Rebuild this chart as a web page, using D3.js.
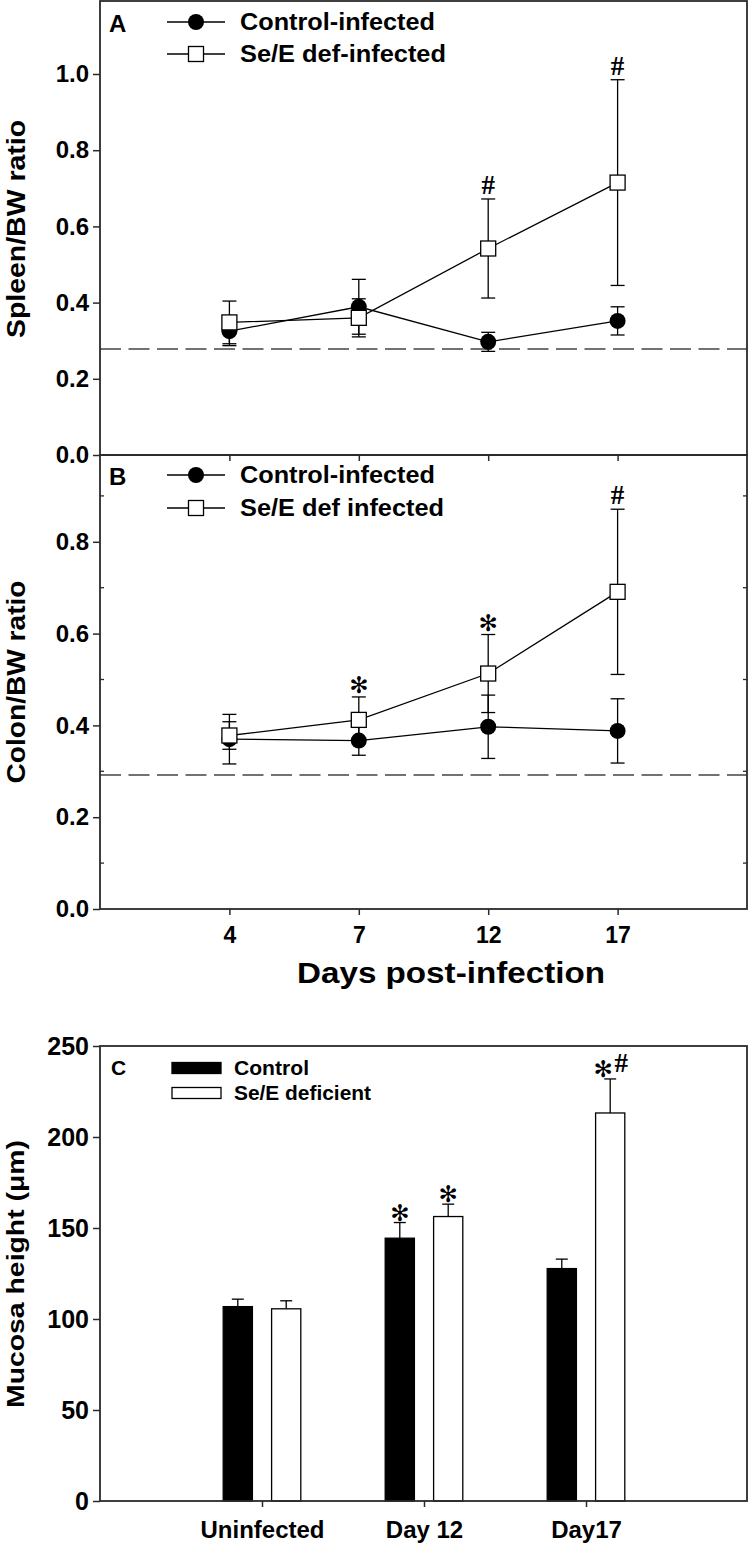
<!DOCTYPE html>
<html><head><meta charset="utf-8">
<script src="https://cdn.jsdelivr.net/npm/d3@7"></script>
<style>body{margin:0;background:#fff}svg{display:block}</style>
</head><body>
<svg id="chart" width="750" height="1544"></svg>
<script>
// ---------- data ----------
const days = ["4", "7", "12", "17"];
const seriesNames = ["Control-infected", "Se/E def-infected"];
const seriesNamesB = ["Control-infected", "Se/E def infected"];

const spleenControl = [0.325, 0.389, 0.297, 0.352];
const spleenControlSE = [0.038, 0.072, 0.025, 0.037];
const spleenDef = [0.348, 0.360, 0.542, 0.715];
const spleenDefSE = [0.056, 0.050, 0.130, 0.270];
const spleenDefSig = ["", "", "#", "#"];
const spleenBaseline = 0.278;
const spleenTicks = [0, 0.2, 0.4, 0.6, 0.8, 1.0];

const colonControl = [0.370, 0.367, 0.397, 0.388];
const colonControlSE = [0.054, 0.032, 0.069, 0.070];
const colonDef = [0.378, 0.412, 0.513, 0.691];
const colonDefSE = [0.030, 0.050, 0.085, 0.180];
const colonDefSig = ["", "*", "*", "#"];
const colonBaseline = 0.292;
const colonTicks = [0, 0.2, 0.4, 0.6, 0.8];
const colonMinorTicks = [0.1, 0.3, 0.5, 0.7, 0.9];

const groups = ["Uninfected", "Day 12", "Day17"];
const barSeries = ["Control", "Se/E deficient"];
const mucosaControl = [106.8, 144.4, 127.7];
const mucosaControlSE = [4.1, 8.6, 5.2];
const mucosaDef = [105.6, 156.3, 213.2];
const mucosaDefSE = [4.4, 6.8, 18.7];
const mucosaControlSig = ["", "*", ""];
const mucosaDefSig = ["", "*", "*#"];
const mucosaTicks = [0, 50, 100, 150, 200, 250];

// ---------- setup ----------
const SANS = "'Liberation Sans', Arial, Helvetica, sans-serif";
const SERIF = "'Liberation Serif', 'Times New Roman', serif";
const STAR = "'DejaVu Sans', sans-serif";
const svg = d3.select("#chart");
const L = 100, R = 747;
const FRAME = "#2a2a2a";

const xDays = d3.scalePoint().domain(days).range([L, R]).padding(1);

function frame(top, bottom, right) {
  svg.append("rect").attr("x", L).attr("y", top).attr("width", right - L).attr("height", bottom - top)
    .attr("fill", "none").attr("stroke", FRAME).attr("stroke-width", 1.8);
}
function styleAxis(g, size) {
  g.select(".domain").remove();
  g.selectAll(".tick line").attr("stroke", FRAME).attr("stroke-width", 1.5);
  g.selectAll(".tick text").attr("font-family", SANS).attr("font-weight", "bold")
    .attr("font-size", size).attr("fill", "#000");
}
function hash(g, xpos, ybase) {
  g.append("text").attr("x", xpos).attr("y", ybase).attr("text-anchor", "middle")
    .attr("font-family", SERIF).attr("font-weight", "bold").attr("font-size", 27).text("#");
}
function star(g, xpos, ycenter) {
  g.append("text").attr("x", xpos).attr("y", ycenter).attr("text-anchor", "middle")
    .attr("dominant-baseline", "central")
    .attr("font-family", STAR).attr("font-size", 23).text("\u273B");
}
function sig(g, xpos, ypos, label, dyStar) {
  if (label === "#") hash(g, xpos, ypos - 5);
  else if (label === "*") star(g, xpos, ypos - dyStar);
  else if (label === "*#") { star(g, xpos - 7, ypos - dyStar); hash(g, xpos + 11, ypos - 7); }
}

function linePanel(cfg) {
  const y = d3.scaleLinear().domain([0, cfg.ymax]).range([cfg.bottom, cfg.top]);
  const g = svg.append("g");
  g.append("line").attr("x1", L).attr("x2", R).attr("y1", y(cfg.baseline)).attr("y2", y(cfg.baseline))
    .attr("stroke", "#444").attr("stroke-width", 1.5).attr("stroke-dasharray", "21,7.5");
  const ya = g.append("g").attr("transform", `translate(${L},0)`)
    .call(d3.axisLeft(y).tickValues(cfg.ticks).tickFormat(d3.format(".1f")).tickSize(7).tickPadding(4));
  styleAxis(ya, 24);
  const xa = g.append("g").attr("transform", `translate(0,${cfg.bottom})`)
    .call(d3.axisBottom(xDays).tickSize(6).tickPadding(12).tickFormat(cfg.showX ? (d => d) : () => ""));
  styleAxis(xa, 23);
  if (cfg.minor) {
    cfg.minor.forEach(v => {
      g.append("line").attr("x1", L).attr("x2", L + 4).attr("y1", y(v)).attr("y2", y(v)).attr("stroke", FRAME).attr("stroke-width", 1.3);
      g.append("line").attr("x1", R - 4).attr("x2", R).attr("y1", y(v)).attr("y2", y(v)).attr("stroke", FRAME).attr("stroke-width", 1.3);
    });
  }
  const series = [
    {vals: cfg.control, se: cfg.controlSE, type: "circle"},
    {vals: cfg.def, se: cfg.defSE, type: "square"}
  ];
  series.forEach(s => {
    s.vals.forEach((v, i) => {
      const cx = xDays(days[i]);
      const y1 = y(v + s.se[i]), y0 = y(v - s.se[i]);
      g.append("line").attr("x1", cx).attr("x2", cx).attr("y1", y1).attr("y2", y0).attr("stroke", "#000").attr("stroke-width", 1.3);
      [y1, y0].forEach(yy => g.append("line").attr("x1", cx - 7).attr("x2", cx + 7).attr("y1", yy).attr("y2", yy).attr("stroke", "#000").attr("stroke-width", 1.3));
    });
  });
  series.forEach(s => {
    g.append("path").datum(s.vals)
      .attr("d", d3.line().x((d, i) => xDays(days[i])).y(d => y(d)))
      .attr("fill", "none").attr("stroke", "#000").attr("stroke-width", 1.3);
  });
  series.forEach(s => {
    s.vals.forEach((v, i) => {
      const cx = xDays(days[i]), cy = y(v);
      if (s.type === "circle") g.append("circle").attr("cx", cx).attr("cy", cy).attr("r", 8).attr("fill", "#000");
      else g.append("rect").attr("x", cx - 7.5).attr("y", cy - 7.5).attr("width", 15).attr("height", 15)
        .attr("fill", "#fff").attr("stroke", "#000").attr("stroke-width", 1.3);
    });
  });
  cfg.sig.forEach((lab, i) => { if (lab) sig(g, xDays(days[i]), y(cfg.def[i] + cfg.defSE[i]), lab, 12); });
  frame(cfg.top, cfg.bottom, R);
  g.append("text").attr("x", 109).attr("y", cfg.top + cfg.legY1 + 10).attr("font-family", SANS).attr("font-weight", "bold")
    .attr("font-size", 24).text(cfg.letter);
  [cfg.legY1, cfg.legY2].forEach((ly, k) => {
    const yy = cfg.top + ly;
    g.append("line").attr("x1", 167).attr("x2", 225).attr("y1", yy).attr("y2", yy).attr("stroke", "#000").attr("stroke-width", 1.3);
    if (k === 0) g.append("circle").attr("cx", 196).attr("cy", yy).attr("r", 8).attr("fill", "#000");
    else g.append("rect").attr("x", 196 - 7.5).attr("y", yy - 7.5).attr("width", 15).attr("height", 15)
      .attr("fill", "#fff").attr("stroke", "#000").attr("stroke-width", 1.3);
    g.append("text").attr("x", 240).attr("y", yy).attr("dy", "0.36em").attr("font-family", SANS).attr("font-weight", "bold")
      .attr("font-size", 23).attr("textLength", cfg.legLen[k]).attr("lengthAdjust", "spacingAndGlyphs").text(cfg.names[k]);
  });
  g.append("text").attr("transform", `translate(25,${cfg.titleY}) rotate(-90)`).attr("text-anchor", "middle")
    .attr("font-family", SANS).attr("font-weight", "bold").attr("font-size", 25)
    .attr("textLength", cfg.titleLen).attr("lengthAdjust", "spacingAndGlyphs").text(cfg.title);
}

linePanel({top: 1, bottom: 455, ymax: 454 / 381, baseline: spleenBaseline, ticks: spleenTicks, showX: false,
  control: spleenControl, controlSE: spleenControlSE, def: spleenDef, defSE: spleenDefSE, sig: spleenDefSig,
  letter: "A", legY1: 21, legY2: 53, names: seriesNames, legLen: [195, 206],
  title: "Spleen/BW ratio", titleY: 229, titleLen: 218});

linePanel({top: 455, bottom: 909, ymax: 454 / 459, baseline: colonBaseline, ticks: colonTicks, minor: colonMinorTicks, showX: true,
  control: colonControl, controlSE: colonControlSE, def: colonDef, defSE: colonDefSE, sig: colonDefSig,
  letter: "B", legY1: 20, legY2: 53, names: seriesNamesB, legLen: [195, 204],
  title: "Colon/BW ratio", titleY: 682, titleLen: 203});

svg.append("text").attr("x", 451).attr("y", 983).attr("text-anchor", "middle").attr("font-family", SANS)
  .attr("font-weight", "bold").attr("font-size", 30).attr("textLength", 308).attr("lengthAdjust", "spacingAndGlyphs")
  .text("Days post-infection");

// ---------- panel C ----------
(function () {
  const top = 1046, bottom = 1501, RC = 747;
  const y = d3.scaleLinear().domain([0, 250]).range([bottom, top]);
  const x0 = d3.scalePoint().domain(groups).range([L, 748]).padding(1);
  const x1 = d3.scalePoint().domain(barSeries).range([-24.2, 24.2]);
  const bw = 29.2;
  const g = svg.append("g");
  const ya = g.append("g").attr("transform", `translate(${L},0)`)
    .call(d3.axisLeft(y).tickValues(mucosaTicks).tickSize(7).tickPadding(4));
  styleAxis(ya, 25);
  const xa = g.append("g").attr("transform", `translate(0,${bottom})`)
    .call(d3.axisBottom(x0).tickSize(6).tickPadding(14));
  styleAxis(xa, 24);
  const data = [
    {name: barSeries[0], vals: mucosaControl, se: mucosaControlSE, sig: mucosaControlSig, fill: "#000"},
    {name: barSeries[1], vals: mucosaDef, se: mucosaDefSE, sig: mucosaDefSig, fill: "#fff"}
  ];
  data.forEach(s => {
    s.vals.forEach((v, i) => {
      const cx = x0(groups[i]) + x1(s.name);
      const yt = y(v + s.se[i]);
      g.append("line").attr("x1", cx).attr("x2", cx).attr("y1", y(v)).attr("y2", yt).attr("stroke", "#000").attr("stroke-width", 1.3);
      g.append("line").attr("x1", cx - 6).attr("x2", cx + 6).attr("y1", yt).attr("y2", yt).attr("stroke", "#000").attr("stroke-width", 1.3);
      g.append("rect").attr("x", cx - bw / 2).attr("y", y(v)).attr("width", bw).attr("height", bottom - y(v))
        .attr("fill", s.fill).attr("stroke", "#000").attr("stroke-width", 1.3);
      if (s.sig[i]) sig(g, cx, yt, s.sig[i], 10);
    });
  });
  frame(top, bottom, RC);
  g.append("text").attr("x", 111).attr("y", 1075).attr("font-family", SANS).attr("font-weight", "bold").attr("font-size", 21).text("C");
  const legLen = [75, 137];
  data.forEach((s, k) => {
    const yy = 1068 + k * 25;
    g.append("rect").attr("x", 172).attr("y", yy - 5.5).attr("width", 49).attr("height", 11)
      .attr("fill", s.fill).attr("stroke", "#000").attr("stroke-width", 1.3);
    g.append("text").attr("x", 234).attr("y", yy).attr("dy", "0.36em").attr("font-family", SANS).attr("font-weight", "bold")
      .attr("font-size", 20).attr("textLength", legLen[k]).attr("lengthAdjust", "spacingAndGlyphs").text(s.name);
  });
  g.append("text").attr("transform", `translate(24,1274) rotate(-90)`).attr("text-anchor", "middle")
    .attr("font-family", SANS).attr("font-weight", "bold").attr("font-size", 24)
    .attr("textLength", 268).attr("lengthAdjust", "spacingAndGlyphs").text("Mucosa height (\u03BCm)");
})();
</script>
</body></html>
